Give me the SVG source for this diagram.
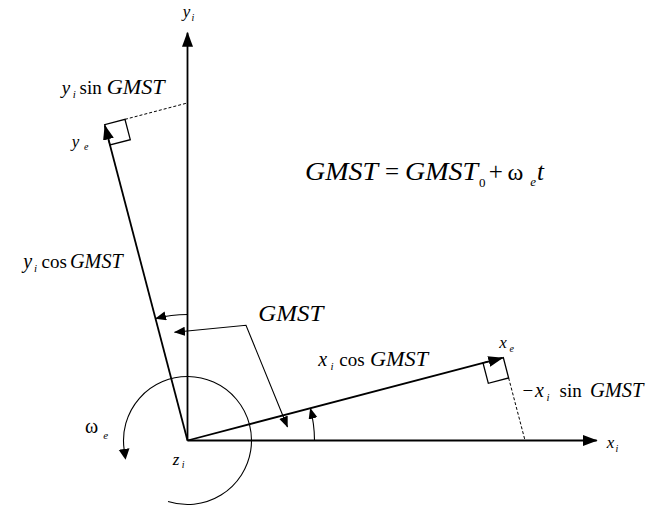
<svg xmlns="http://www.w3.org/2000/svg" width="648" height="506" viewBox="0 0 648 506">
<style>
.ln{stroke:#000;fill:none}
.ax{stroke-width:1.8}
.th{stroke-width:1.1}
.sq{stroke-width:1.3}
.dash{stroke-width:1;stroke-dasharray:3 2}
text{font-family:"Liberation Serif","Times New Roman",serif;fill:#000}
.it{font-style:italic}
</style>
<defs>
<marker id="ah" markerUnits="userSpaceOnUse" markerWidth="16" markerHeight="12" refX="14" refY="5.5" orient="auto"><path d="M0,0 L15,5.5 L0,11 z" fill="#000"/></marker>
<marker id="as" markerUnits="userSpaceOnUse" markerWidth="12" markerHeight="10" refX="10.5" refY="4.5" orient="auto-start-reverse"><path d="M0,0 L11,4.5 L0,9 z" fill="#000"/></marker>
<marker id="ab" markerUnits="userSpaceOnUse" markerWidth="12" markerHeight="12" refX="0.5" refY="5.5" orient="auto"><path d="M0,0 L11,5.5 L0,11 z" fill="#000"/></marker>
</defs>
<rect width="648" height="506" fill="#fff"/>
<g id="connectors">
<g id="axes">
<path class="ln ax" d="M187.5,440.5 L596.7,440.5" marker-end="url(#ah)"/>
<path class="ln ax" d="M187.5,440.5 L187.5,32.7" marker-end="url(#ah)"/>
</g>
<g id="vectors">
<path class="ln ax" d="M187.5,440.5 L502.34,357.9" marker-end="url(#ah)"/>
<path class="ln ax" d="M187.5,440.5 L104.9,125.66" marker-end="url(#ah)"/>
</g>
<g id="right-angles">
<path class="ln sq" d="M503.31,357.65 L482.99,362.98 L488.32,383.29 L508.64,377.96 Z"/>
<path class="ln sq" d="M104.65,124.69 L109.98,145.0 L130.29,139.67 L124.96,119.36 Z"/>
</g>
<g id="projections">
<path class="ln dash" d="M508.64,377.96 L525.04,440.5"/>
<path class="ln dash" d="M124.96,119.36 L187.5,102.95"/>
</g>
<g id="angle-arcs">
<path class="ln th" d="M187.5,314.5 A126,126 0 0 0 155.53,318.62" marker-end="url(#as)"/>
<path class="ln th" d="M314.5,440.5 A127,127 0 0 0 310.34,408.27" marker-end="url(#as)"/>
<path class="ln th" d="M174.5,332.3 L246,325.3 L287.5,427" marker-start="url(#as)" marker-end="url(#as)"/>
<path class="ln th" d="M168.04,501.47 A64,64 0 1 0 124.12,449.41" marker-end="url(#ab)"/>
</g>
</g>
<g id="labels">
<g id="label-yi"><text class="it" x="182.7" y="17" font-size="17">y</text><text class="it" x="191.5" y="20.5" font-size="10">i</text></g>
<g id="label-yisin"><text class="it" x="61.7" y="94.3" font-size="19">y</text><text class="it" x="72.8" y="97.5" font-size="11">i</text><text x="79.5" y="94.3" font-size="19">sin</text><text class="it" x="106.7" y="94.3" font-size="20" textLength="58" lengthAdjust="spacingAndGlyphs">GMST</text></g>
<g id="label-ye"><text class="it" x="71.7" y="146.5" font-size="17">y</text><text class="it" x="84" y="150" font-size="10">e</text></g>
<g id="equation"><text class="it" x="305" y="180" font-size="26" textLength="73" lengthAdjust="spacingAndGlyphs">GMST</text><text x="385" y="180" font-size="25">=</text><text class="it" x="405" y="180" font-size="26" textLength="73" lengthAdjust="spacingAndGlyphs">GMST</text><text x="479" y="187" font-size="13">0</text><text x="488.8" y="180" font-size="25">+</text><text x="507.5" y="180" font-size="24">ω</text><text class="it" x="530.2" y="186" font-size="13">e</text><text class="it" x="537" y="180" font-size="25">t</text></g>
<g id="label-gmst"><text class="it" x="258.3" y="321" font-size="23" textLength="65" lengthAdjust="spacingAndGlyphs">GMST</text></g>
<g id="label-xicos"><text class="it" x="318.3" y="366" font-size="20">x</text><text class="it" x="330.5" y="369.5" font-size="11">i</text><text x="339.3" y="366" font-size="19">cos</text><text class="it" x="370" y="366" font-size="20" textLength="58" lengthAdjust="spacingAndGlyphs">GMST</text></g>
<g id="label-xe"><text class="it" x="499.3" y="347.7" font-size="17">x</text><text class="it" x="509.5" y="352" font-size="10">e</text></g>
<g id="label-xisin"><text x="522.5" y="397.3" font-size="19">−</text><text class="it" x="535" y="397.3" font-size="20">x</text><text class="it" x="546.5" y="400.5" font-size="11">i</text><text x="559.5" y="397.3" font-size="19">sin</text><text class="it" x="590" y="397.3" font-size="20" textLength="53.5" lengthAdjust="spacingAndGlyphs">GMST</text></g>
<g id="label-xi"><text class="it" x="606.7" y="448.3" font-size="17">x</text><text class="it" x="615.5" y="452" font-size="10">i</text></g>
<g id="label-yicos"><text class="it" x="23.3" y="268" font-size="20">y</text><text class="it" x="34" y="271.5" font-size="11">i</text><text x="41.5" y="268" font-size="19">cos</text><text class="it" x="70" y="268" font-size="20" textLength="52.7" lengthAdjust="spacingAndGlyphs">GMST</text></g>
<g id="label-omega"><text x="85" y="433.3" font-size="20">ω</text><text class="it" x="103.3" y="439.3" font-size="11">e</text></g>
<g id="label-zi"><text class="it" x="172.7" y="465" font-size="17">z</text><text class="it" x="181.7" y="468.3" font-size="10">i</text></g>
</g>
</svg>
